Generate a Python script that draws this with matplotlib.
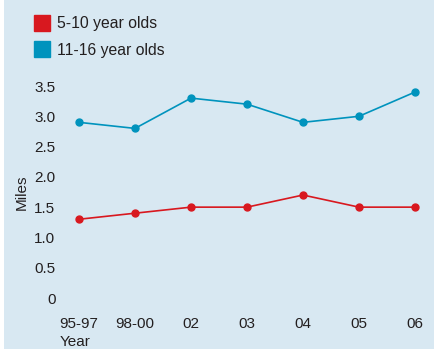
import matplotlib.pyplot as plt
from matplotlib.lines import Line2D
from matplotlib.patches import Rectangle

plt.rcParams['font.family'] = ['Liberation Sans', 'DejaVu Sans']

years = ['95-97', '98-00', '02', '03', '04', '05', '06']
young = [1.3, 1.4, 1.5, 1.5, 1.7, 1.5, 1.5]
older = [2.9, 2.8, 3.3, 3.2, 2.9, 3.0, 3.4]
y_ticks = [0, 0.5, 1.0, 1.5, 2.0, 2.5, 3.0, 3.5]
y_labels = ['0', '0.5', '1.0', '1.5', '2.0', '2.5', '3.0', '3.5']

bg = '#d8e8f2'
red = '#d8181f'
blue = '#0093bd'
txt = '#231f20'

W, H = 435, 349
fig = plt.figure(figsize=(W / 100, H / 100), dpi=100, facecolor='white')
fig.add_artist(Rectangle((4 / W, 0), 1, 1, transform=fig.transFigure,
                         facecolor=bg, edgecolor='none', zorder=-10))

# axes placed so that first/last categories and 0/3.5 land where the original has them
ax = fig.add_axes([79 / W, 1 - 298 / H, (415 - 79) / W, (298 - 86) / H])
ax.set_facecolor('none')
ax.set_xlim(0, 6)
ax.set_ylim(0, 3.5)
for s in ax.spines.values():
    s.set_visible(False)

x = range(len(years))
ax.plot(x, young, color=red, lw=1.2, marker='o', ms=5, clip_on=False)
ax.plot(x, older, color=blue, lw=1.2, marker='o', ms=5, clip_on=False)

ax.set_xticks(list(x))
ax.set_xticklabels(years)
ax.set_yticks(y_ticks)
ax.set_yticklabels(y_labels)
ax.tick_params(length=0, labelsize=11, labelcolor=txt)
ax.tick_params(axis='x', pad=14)
ax.tick_params(axis='y', pad=17)

fig.text(60 / W, 1 - 342 / H, 'Year', fontsize=11, color=txt, ha='left', va='center')
fig.text(22 / W, 1 - 192 / H, 'Miles', fontsize=11, color=txt, rotation=90,
         ha='center', va='center')

handles = [Line2D([], [], ls='none', marker='s', ms=11.5, color=red),
           Line2D([], [], ls='none', marker='s', ms=11.5, color=blue)]
fig.legend(handles, ['5-10 year olds', '11-16 year olds'], loc='upper left',
           bbox_to_anchor=(20 / W, 1 - 2 / H), frameon=False, fontsize=11.3,
           handlelength=1.0, handletextpad=0.45, labelspacing=0.74,
           labelcolor=txt)

fig.savefig('out.png', dpi=100, facecolor='white')
